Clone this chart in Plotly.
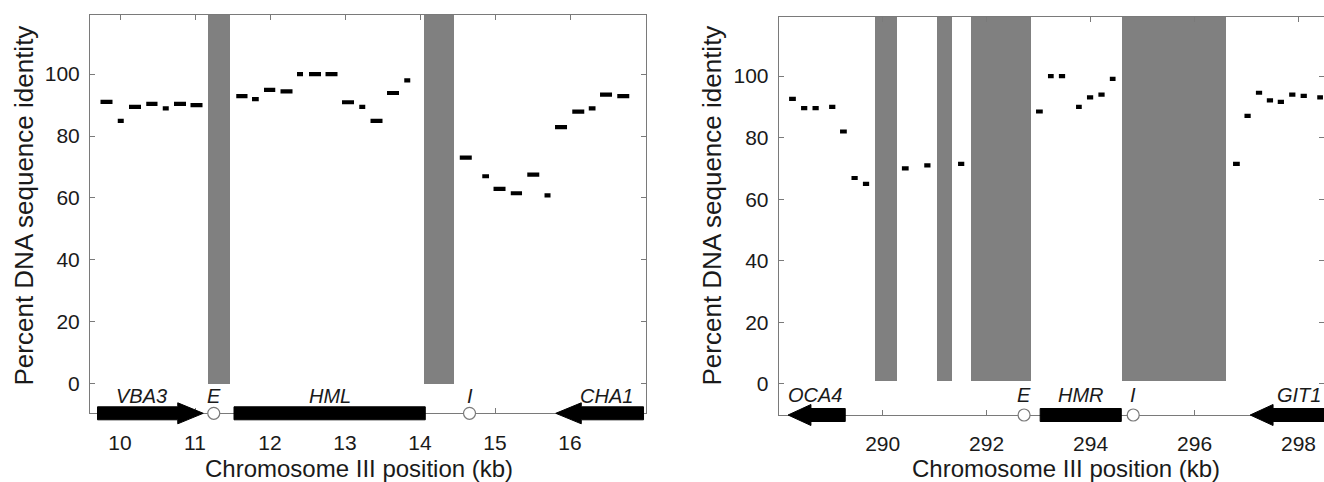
import plotly.graph_objects as go

# ---------------- data: left panel (HML region) ----------------
left_seg_start = [9.74, 9.97, 10.12, 10.35, 10.57, 10.72, 10.94, 11.55, 11.76, 11.92,
                  12.14, 12.36, 12.52, 12.74, 12.96, 13.19, 13.34, 13.56, 13.79, 14.53,
                  14.83, 14.98, 15.21, 15.43, 15.66, 15.80, 16.03, 16.25, 16.40, 16.63]
left_seg_end = [9.90, 10.05, 10.28, 10.50, 10.65, 10.88, 11.10, 11.70, 11.85, 12.07,
                12.30, 12.44, 12.68, 12.90, 13.12, 13.27, 13.50, 13.72, 13.87, 14.69,
                14.92, 15.14, 15.36, 15.59, 15.74, 15.96, 16.19, 16.34, 16.56, 16.79]
left_identity = [91.0, 84.9, 89.4, 90.4, 88.9, 90.4, 90.0, 92.9, 91.9, 94.9,
                 94.4, 100.0, 100.0, 100.0, 90.9, 89.4, 84.9, 93.9, 98.0, 73.0,
                 67.0, 62.9, 61.5, 67.5, 60.8, 82.9, 87.9, 88.9, 93.4, 92.9]
left_gap_start = [11.17, 14.05]
left_gap_end = [11.47, 14.45]
left_gene_names = ["VBA3", "HML", "CHA1"]
left_gene_start = [9.70, 11.52, 15.81]
left_gene_end = [11.11, 14.07, 16.98]
left_gene_strand = [1, 0, -1]
left_gene_label_x = [10.29, 12.80, 16.49]
left_site_names = ["E", "I"]
left_site_pos = [11.25, 14.66]
left_xticks = [10, 11, 12, 13, 14, 15, 16]

# ---------------- data: right panel (HMR region) ----------------
right_seg_start = [288.20, 288.43, 288.65, 288.97, 289.18, 289.40, 289.62, 290.37, 290.80,
                   291.45, 292.95, 293.18, 293.39, 293.72, 293.93, 294.15, 294.37, 296.74,
                   296.96, 297.18, 297.39, 297.60, 297.82, 298.04, 298.36]
right_seg_end = [288.33, 288.55, 288.77, 289.09, 289.31, 289.52, 289.74, 290.50, 290.92,
                 291.57, 293.08, 293.29, 293.51, 293.83, 294.05, 294.27, 294.48, 296.87,
                 297.08, 297.30, 297.51, 297.72, 297.94, 298.16, 298.47]
right_identity = [92.6, 89.6, 89.6, 90.0, 82.0, 66.9, 65.0, 70.0, 71.0,
                  71.5, 88.5, 100.0, 100.0, 90.0, 93.1, 94.0, 99.1, 71.5,
                  87.1, 94.6, 92.1, 91.6, 94.0, 93.6, 93.1]
right_gap_start = [289.85, 291.04, 291.69, 294.61]
right_gap_end = [290.27, 291.34, 292.85, 296.60]
right_gene_names = ["OCA4", "HMR", "GIT1"]
right_gene_start = [288.18, 293.03, 297.07]
right_gene_end = [289.28, 294.59, 298.60]
right_gene_strand = [-1, 0, -1]
right_gene_label_x = [288.70, 293.81, 298.00]
right_site_names = ["E", "I"]
right_site_pos = [292.72, 294.82]
right_xticks = [290, 292, 294, 296, 298]

y_ticks = [0, 20, 40, 60, 80, 100]

# ---------------- styles ----------------
W, H = 1324, 482
FONT = "Liberation Sans, Arial, sans-serif"
TXT = "#1a1a1a"
FRAME = "#7a7a7a"
GAP_COLOR = "#808080"
BODY_HALF, HEAD_HALF = 6.5, 10.5   # track units (px-like)

panels = [
    dict(seg_s=left_seg_start, seg_e=left_seg_end, ident=left_identity,
         gap_s=left_gap_start, gap_e=left_gap_end, gap_base=0.0,
         g_names=left_gene_names, g_s=left_gene_start, g_e=left_gene_end,
         g_strand=left_gene_strand, g_lx=left_gene_label_x,
         s_names=left_site_names, s_pos=left_site_pos, xticks=left_xticks,
         xdom=[90 / W, 646 / W], ydom=[1 - 413.3 / H, 1 - 15 / H],
         xr=[9.6, 17.013], yr=[-9.6, 119.1], head=0.34, label_y=-4.0,
         track=[1 - 427.3 / H, 1 - 399.3 / H],
         xtitle_x=359 / W, ytitle_x=23 / W),
    dict(seg_s=right_seg_start, seg_e=right_seg_end, ident=right_identity,
         gap_s=right_gap_start, gap_e=right_gap_end, gap_base=0.8,
         g_names=right_gene_names, g_s=right_gene_start, g_e=right_gene_end,
         g_strand=right_gene_strand, g_lx=right_gene_label_x,
         s_names=right_site_names, s_pos=right_site_pos, xticks=right_xticks,
         xdom=[778.7 / W, 1.0], ydom=[1 - 415 / H, 1 - 16.7 / H],
         xr=[288.0, 298.49], yr=[-10.1, 119.3], head=0.44, label_y=-3.6,
         track=[1 - 429 / H, 1 - 401 / H],
         xtitle_x=1066 / W, ytitle_x=711 / W),
]


def gene_polygon(s, e, strand, head):
    b, h = BODY_HALF, HEAD_HALF
    if strand > 0:
        xs = [s, e - head, e - head, e, e - head, e - head, s, s]
        ys = [-b, -b, -h, 0, h, b, b, -b]
    elif strand < 0:
        xs = [e, s + head, s + head, s, s + head, s + head, e, e]
        ys = [-b, -b, -h, 0, h, b, b, -b]
    else:
        xs = [s, e, e, s, s]
        ys = [-b, -b, b, b, -b]
    return xs, ys


fig = go.Figure()
annotations = []
layout = {}

for i, p in enumerate(panels):
    n = i + 1
    xa = "x" if n == 1 else f"x{n}"
    ya = "y" if n == 1 else f"y{n}"
    tn = n + 2
    txa, tya = f"x{tn}", f"y{tn}"
    ytop = p["yr"][1]

    # gray gap bars
    fig.add_trace(go.Bar(
        x=[(s + e) / 2 for s, e in zip(p["gap_s"], p["gap_e"])],
        width=[e - s for s, e in zip(p["gap_s"], p["gap_e"])],
        y=[ytop - p["gap_base"]] * len(p["gap_s"]),
        base=[p["gap_base"]] * len(p["gap_s"]),
        marker=dict(color=GAP_COLOR, line=dict(width=0)),
        xaxis=xa, yaxis=ya, showlegend=False, hoverinfo="skip"))

    # identity dashes
    xs, ys = [], []
    for s, e, v in zip(p["seg_s"], p["seg_e"], p["ident"]):
        xs += [s, e, None]
        ys += [v, v, None]
    fig.add_trace(go.Scatter(x=xs, y=ys, mode="lines",
                             line=dict(color="black", width=4.2),
                             xaxis=xa, yaxis=ya, showlegend=False))

    # gene arrows (track subplot)
    for s, e, st in zip(p["g_s"], p["g_e"], p["g_strand"]):
        gx, gy = gene_polygon(s, e, st, p["head"])
        fig.add_trace(go.Scatter(x=gx, y=gy, mode="lines", fill="toself",
                                 fillcolor="black", line=dict(color="black", width=1),
                                 xaxis=txa, yaxis=tya, showlegend=False))
    # silencer sites
    fig.add_trace(go.Scatter(x=p["s_pos"], y=[0] * len(p["s_pos"]), mode="markers",
                             marker=dict(symbol="circle", size=12, color="white",
                                         line=dict(color=FRAME, width=1.2)),
                             xaxis=txa, yaxis=tya, showlegend=False, cliponaxis=False))

    for name, lx in zip(p["g_names"], p["g_lx"]):
        annotations.append(dict(x=lx, y=p["label_y"], xref=xa, yref=ya, text=f"<i>{name}</i>",
                                showarrow=False, font=dict(size=20, color=TXT, family=FONT),
                                xanchor="center", yanchor="middle"))
    for name, lx in zip(p["s_names"], p["s_pos"]):
        annotations.append(dict(x=lx, y=p["label_y"], xref=xa, yref=ya, text=f"<i>{name}</i>",
                                showarrow=False, font=dict(size=20, color=TXT, family=FONT),
                                xanchor="center", yanchor="middle"))

    # titles
    annotations.append(dict(x=p["xtitle_x"], y=1 - 468 / H, xref="paper", yref="paper",
                            text="Chromosome III position (kb)", showarrow=False,
                            font=dict(size=24, color=TXT, family=FONT),
                            xanchor="center", yanchor="middle"))
    annotations.append(dict(x=p["ytitle_x"], y=1 - 205.5 / H, xref="paper", yref="paper",
                            text="Percent DNA sequence identity", showarrow=False, textangle=-90,
                            font=dict(size=26, color=TXT, family=FONT),
                            xanchor="center", yanchor="middle"))

    axis_common = dict(showgrid=False, zeroline=False, showline=True, linecolor=FRAME,
                       linewidth=1, mirror="ticks", ticks="inside", ticklen=5,
                       tickwidth=1, tickcolor=FRAME,
                       tickfont=dict(size=21, color=TXT, family=FONT))
    layout[f"xaxis{'' if n == 1 else n}"] = dict(
        axis_common, domain=p["xdom"], range=p["xr"], anchor=ya,
        tickmode="array", tickvals=p["xticks"], ticktext=[str(t) for t in p["xticks"]],
        ticklabelstandoff=10)
    layout[f"yaxis{'' if n == 1 else n}"] = dict(
        axis_common, domain=p["ydom"], range=p["yr"], anchor=xa,
        tickmode="array", tickvals=y_ticks, ticktext=[str(t) for t in y_ticks],
        ticklabelstandoff=5)
    layout[f"xaxis{tn}"] = dict(domain=p["xdom"], range=p["xr"], anchor=tya,
                                visible=False, fixedrange=True)
    layout[f"yaxis{tn}"] = dict(domain=p["track"], range=[-14, 14], anchor=txa,
                                visible=False, fixedrange=True)

fig.update_layout(
    width=W, height=H, margin=dict(l=0, r=0, t=0, b=0),
    paper_bgcolor="white", plot_bgcolor="rgba(0,0,0,0)",
    barmode="overlay", bargap=0, showlegend=False, hovermode=False,
    font=dict(family=FONT, color=TXT),
    annotations=annotations, **layout)

fig.write_html("out.html", config={"displayModeBar": False, "staticPlot": True},
               post_script="document.body.style.margin='0';document.body.style.overflow='hidden';")
